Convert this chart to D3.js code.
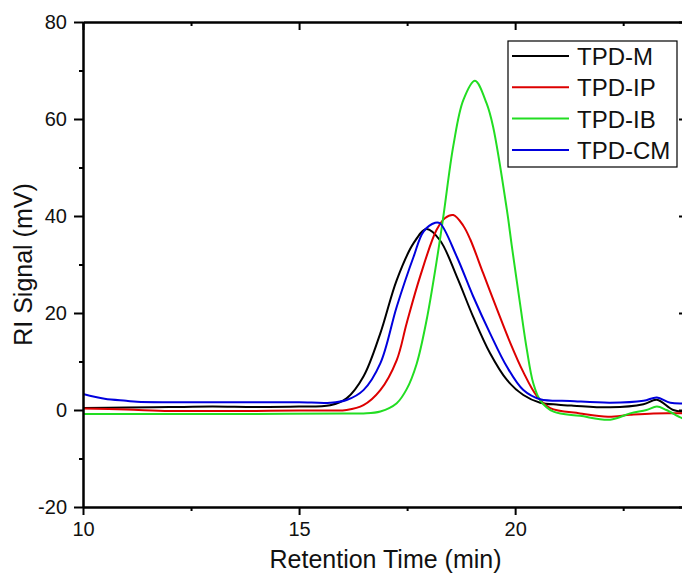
<!DOCTYPE html>
<html>
<head>
<meta charset="utf-8">
<script src="https://cdn.jsdelivr.net/npm/d3@7"></script>
<style>
  body { margin: 0; background: #fff; }
  svg { display: block; font-family: Arial, "Liberation Sans", sans-serif; }
</style>
</head>
<body>
<div id="chart"></div>
<script>
// retention time (min) and RI signal (mV)
const seriesNames = ["TPD-M", "TPD-IP", "TPD-IB", "TPD-CM"];
const seriesColors = ["#000000", "#dd0000", "#22dd22", "#0000dd"];

const tM = [10, 11, 12, 13, 14, 15, 15.72, 16.1, 16.49, 16.88, 17.26, 17.65, 17.95, 18.26, 18.65, 19.03, 19.42, 19.81, 20.19, 20.58, 21.0, 21.35, 22.2, 22.97, 23.28, 23.66, 24];
const vM = [0.4, 0.5, 0.6, 0.7, 0.6, 0.7, 1.0, 2.4, 6.9, 15.8, 26.8, 34.4, 37.3, 35, 27.5, 19.2, 11.7, 6.2, 3.1, 1.5, 1.1, 0.9, 0.55, 1.2, 2.1, 0.0, -0.4];

const tIP = [10, 11, 12, 13, 14, 15, 15.7, 16.1, 16.49, 16.88, 17.26, 17.49, 17.8, 18.18, 18.38, 18.57, 18.8, 18.96, 19.26, 19.57, 19.88, 20.19, 20.5, 20.81, 21.5, 22.15, 22.66, 23.2, 24];
const vIP = [0.3, 0.1, -0.2, -0.2, -0.2, -0.1, -0.1, 0, 1.0, 4.1, 10.3, 17.9, 27.5, 37.1, 39.6, 40.2, 38.0, 35.2, 28.2, 21.0, 14.0, 7.8, 2.9, 0.4, -0.7, -1.4, -1.0, -0.7, -0.7];

const tIB = [10, 12, 14, 16, 16.49, 16.88, 17.26, 17.49, 17.72, 17.95, 18.18, 18.34, 18.57, 18.8, 19.07, 19.34, 19.49, 19.81, 19.92, 20.12, 20.27, 20.42, 20.58, 20.89, 21.5, 22.2, 22.66, 23.04, 23.28, 23.5, 23.87, 24];
const vIB = [-0.8, -0.8, -0.8, -0.7, -0.7, -0.3, 1.4, 4.3, 9.5, 18.5, 30.5, 40.0, 54.5, 63.9, 67.9, 63.2, 58.4, 41.2, 34.0, 21.5, 12.5, 5.5, 2.0, -0.35, -1.2, -2.0, -0.7, 0, 0.7, 0, -1.7, -1.9];

const tCM = [10, 10.5, 11, 11.25, 12, 13, 14, 15, 15.72, 16.1, 16.49, 16.88, 17.26, 17.65, 17.88, 18.15, 18.26, 18.65, 19.03, 19.42, 19.81, 20.19, 20.58, 21.27, 22.2, 22.97, 23.28, 23.59, 24];
const vCM = [3.3, 2.3, 1.9, 1.7, 1.6, 1.6, 1.6, 1.6, 1.5, 2.06, 4.1, 9.6, 21.3, 31.6, 36.8, 38.6, 38.5, 31.6, 23.4, 15.8, 8.9, 4.1, 2.2, 1.86, 1.5, 1.9, 2.6, 1.5, 1.4];

const xTicks = [10, 15, 20];
const xMinor = [12.5, 17.5, 22.5];
const yTicks = [-20, 0, 20, 40, 60, 80];
const yMinor = [-10, 10, 30, 50, 70];

const series = [
  { name: seriesNames[0], color: seriesColors[0], t: tM, v: vM },
  { name: seriesNames[1], color: seriesColors[1], t: tIP, v: vIP },
  { name: seriesNames[2], color: seriesColors[2], t: tIB, v: vIB },
  { name: seriesNames[3], color: seriesColors[3], t: tCM, v: vCM }
];

const W = 682, H = 573;
const mLeft = 83, mRight = 688, mTop = 22, mBottom = 507;

const x = d3.scaleLinear().domain([10, 24]).range([mLeft, mRight]);
const y = d3.scaleLinear().domain([-20, 80]).range([mBottom, mTop]);

const svg = d3.select("#chart").append("svg")
  .attr("width", W)
  .attr("height", H);

svg.append("defs").append("clipPath").attr("id", "plot")
  .append("rect").attr("x", mLeft).attr("y", mTop)
  .attr("width", mRight - mLeft).attr("height", mBottom - mTop);

// curves
const line = d3.line()
  .x(d => x(d[0]))
  .y(d => y(d[1]))
  .curve(d3.curveCatmullRom.alpha(0.5));

svg.append("g").attr("clip-path", "url(#plot)")
  .selectAll("path")
  .data(series)
  .join("path")
  .attr("fill", "none")
  .attr("stroke", d => d.color)
  .attr("stroke-width", 2)
  .attr("d", d => line(d.t.map((t, i) => [t, d.v[i]])));

// axes
const fontSize = 20;
const fmt = d => String(d); // plain hyphen for negatives, like the original
const styleAxis = g => {
  g.select(".domain").attr("stroke", "#000").attr("stroke-width", 2);
  g.selectAll(".tick line").attr("stroke", "#000").attr("stroke-width", 2);
  g.selectAll(".tick text").attr("fill", "#111").style("font-size", fontSize + "px");
};

svg.append("g")
  .attr("transform", `translate(0,${mBottom})`)
  .call(d3.axisBottom(x).tickValues(xTicks).tickFormat(fmt).tickSize(8).tickPadding(7).tickSizeOuter(0))
  .call(styleAxis);
svg.append("g")
  .attr("transform", `translate(0,${mBottom})`)
  .call(d3.axisBottom(x).tickValues(xMinor).tickSize(4).tickFormat("").tickSizeOuter(0))
  .call(styleAxis);

svg.append("g")
  .attr("transform", `translate(${mLeft},0)`)
  .call(d3.axisLeft(y).tickValues(yTicks).tickFormat(fmt).tickSize(9).tickPadding(7).tickSizeOuter(0))
  .call(styleAxis);
svg.append("g")
  .attr("transform", `translate(${mLeft},0)`)
  .call(d3.axisLeft(y).tickValues(yMinor).tickSize(4).tickFormat("").tickSizeOuter(0))
  .call(styleAxis);

// mirrored frame with inward ticks
svg.append("g")
  .attr("transform", `translate(0,${mTop})`)
  .call(d3.axisBottom(x).tickValues(xTicks).tickSize(8).tickFormat("").tickSizeOuter(0))
  .call(styleAxis);
svg.append("g")
  .attr("transform", `translate(0,${mTop})`)
  .call(d3.axisBottom(x).tickValues(xMinor).tickSize(4).tickFormat("").tickSizeOuter(0))
  .call(styleAxis);
svg.append("g")
  .attr("transform", `translate(${mRight},0)`)
  .call(d3.axisLeft(y).tickValues(yTicks).tickSize(9).tickFormat("").tickSizeOuter(0))
  .call(styleAxis);
svg.append("g")
  .attr("transform", `translate(${mRight},0)`)
  .call(d3.axisLeft(y).tickValues(yMinor).tickSize(4).tickFormat("").tickSizeOuter(0))
  .call(styleAxis);

// axis titles
svg.append("text")
  .attr("x", (mLeft + mRight) / 2)
  .attr("y", 568)
  .attr("text-anchor", "middle")
  .attr("fill", "#111")
  .style("font-size", "25px")
  .text("Retention Time (min)");

svg.append("text")
  .attr("transform", `translate(32,${(mTop + mBottom) / 2}) rotate(-90)`)
  .attr("text-anchor", "middle")
  .attr("fill", "#111")
  .style("font-size", "25px")
  .text("RI Signal (mV)");

// legend
const legend = svg.append("g");
legend.append("rect")
  .attr("x", 508).attr("y", 41)
  .attr("width", 169).attr("height", 126)
  .attr("fill", "#fff")
  .attr("stroke", "#000")
  .attr("stroke-width", 1.2);

const rows = legend.selectAll("g.row")
  .data(series)
  .join("g")
  .attr("class", "row")
  .attr("transform", (d, i) => `translate(0,${56 + i * 31.3})`);

rows.append("line")
  .attr("x1", 512).attr("x2", 569)
  .attr("stroke", d => d.color)
  .attr("stroke-width", 2);

rows.append("text")
  .attr("x", 577)
  .attr("y", 9)
  .attr("fill", "#111")
  .style("font-size", "24px")
  .text(d => d.name);
</script>
</body>
</html>
